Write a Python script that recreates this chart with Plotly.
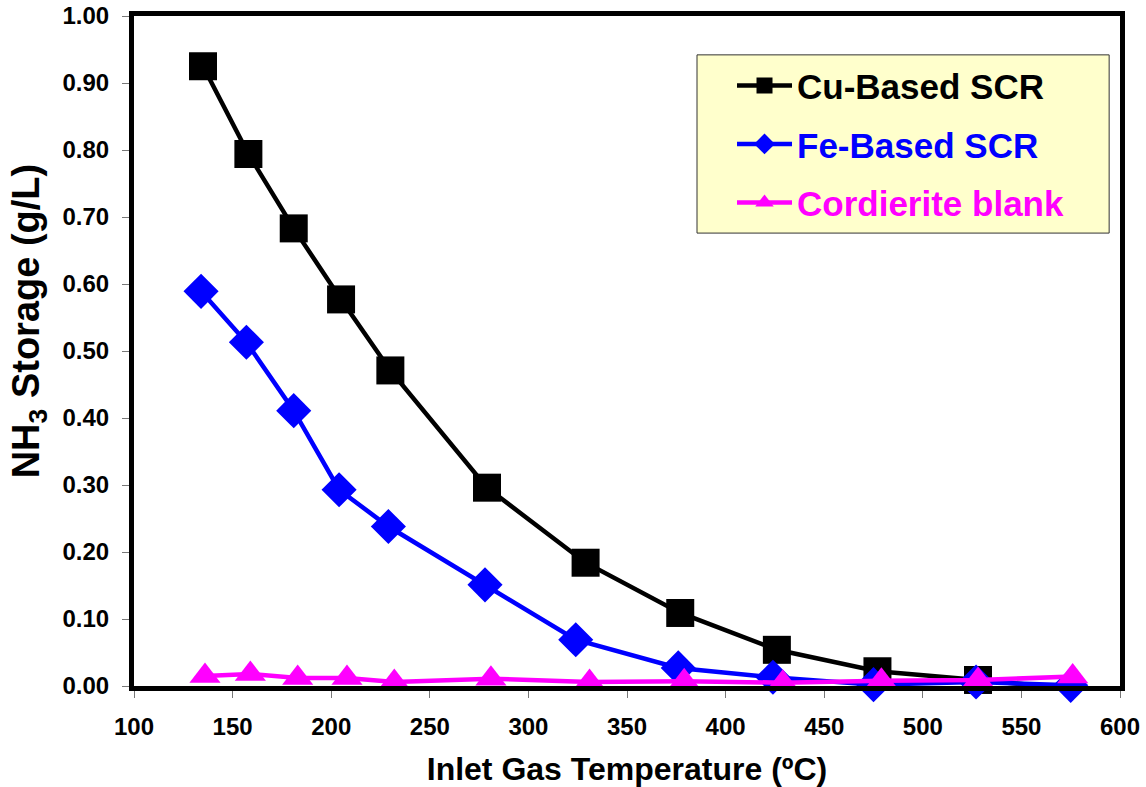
import plotly.graph_objects as go

# Inlet gas temperature (°C) and NH3 storage (g/L) for each catalyst
cu_temp = [135, 158, 181, 205, 230, 279, 329, 377, 426, 477, 528, 576]
cu_storage = [0.925, 0.794, 0.683, 0.577, 0.471, 0.296, 0.184, 0.109, 0.054, 0.022, 0.009, -0.004]

fe_temp = [134, 157, 181, 204, 229, 278, 324, 376, 424, 475, 527, 575]
fe_storage = [0.589, 0.513, 0.411, 0.293, 0.238, 0.151, 0.069, 0.027, 0.013, 0.002, 0.006, 0.001]

blank_temp = [136, 159, 183, 208, 232, 281, 331, 379, 429, 479, 528, 576]
blank_storage = [0.015, 0.018, 0.012, 0.012, 0.006, 0.011, 0.006, 0.007, 0.005, 0.008, 0.009, 0.014]

x_ticks = [100, 150, 200, 250, 300, 350, 400, 450, 500, 550, 600]
y_ticks = [0.0, 0.1, 0.2, 0.3, 0.4, 0.5, 0.6, 0.7, 0.8, 0.9, 1.0]

FONT = "Arial, Liberation Sans, sans-serif"

fig = go.Figure()
fig.add_trace(go.Scatter(
    x=cu_temp, y=cu_storage, mode="lines+markers",
    name="<b><span style='color:#000000'>Cu-Based SCR</span></b>",
    legendgroup="cu", cliponaxis=False,
    line=dict(color="#000000", width=4.5),
    marker=dict(symbol="square", size=28, color="#000000"),
))
fig.add_trace(go.Scatter(
    x=fe_temp, y=fe_storage, mode="lines+markers",
    name="<b><span style='color:#0000FF'>Fe-Based SCR</span></b>",
    legendgroup="fe", cliponaxis=False,
    line=dict(color="#0000FF", width=4.5),
    marker=dict(symbol="diamond", size=27, color="#0000FF"),
))
fig.add_trace(go.Scatter(
    x=blank_temp, y=blank_storage, mode="lines+markers",
    name="<b><span style='color:#FF00FF'>Cordierite blank</span></b>",
    legendgroup="blank", cliponaxis=False,
    line=dict(color="#FF00FF", width=4.5),
    marker=dict(symbol="triangle-up", size=27, color="#FF00FF"),
))

axis_common = dict(
    showline=True, linecolor="#000000", linewidth=5, mirror=True,
    ticks="outside", ticklen=7, tickcolor="#777777", tickwidth=1,
    showgrid=False, zeroline=False, automargin=False,
    tickfont=dict(family=FONT, size=24, color="#000000"),
)

# Pale yellow legend panel
fig.add_shape(
    type="rect", xref="paper", yref="paper",
    x0=0.571, x1=0.989, y0=0.676, y1=0.942,
    fillcolor="#FFFFCC", line=dict(color="#333333", width=1),
    layer="above",
)

# Vertical axis title, set slightly above the middle of the axis
fig.add_annotation(
    text="<b>NH<sub>3</sub> Storage (g/L)</b>",
    xref="paper", yref="paper", x=-0.107, y=0.545,
    xanchor="center", yanchor="middle", textangle=-90,
    showarrow=False, font=dict(family=FONT, size=38, color="#000000"),
)

fig.update_layout(
    width=1146, height=787,
    margin=dict(l=134, r=26, t=16, b=101),
    paper_bgcolor="#FFFFFF", plot_bgcolor="#FFFFFF",
    font=dict(family=FONT, color="#000000"),
    xaxis=dict(
        range=[100, 600], tickvals=x_ticks,
        ticktext=[f"<b>{v}</b>" for v in x_ticks],
        ticklabelstandoff=8,
        title=dict(text="<b>Inlet Gas Temperature (ºC)</b>",
                   font=dict(family=FONT, size=32), standoff=26),
        **axis_common,
    ),
    yaxis=dict(
        range=[0, 1.0], tickvals=y_ticks,
        ticktext=[f"<b>{v:.2f}</b>" for v in y_ticks],
        ticklabelstandoff=8,
        **axis_common,
    ),
    legend=dict(
        x=0.6065, y=0.940, xanchor="left", yanchor="top",
        bgcolor="rgba(0,0,0,0)", borderwidth=0,
        font=dict(family=FONT, size=35),
        tracegroupgap=10, itemwidth=55,
    ),
    showlegend=True,
)

fig.write_html("out.html")
